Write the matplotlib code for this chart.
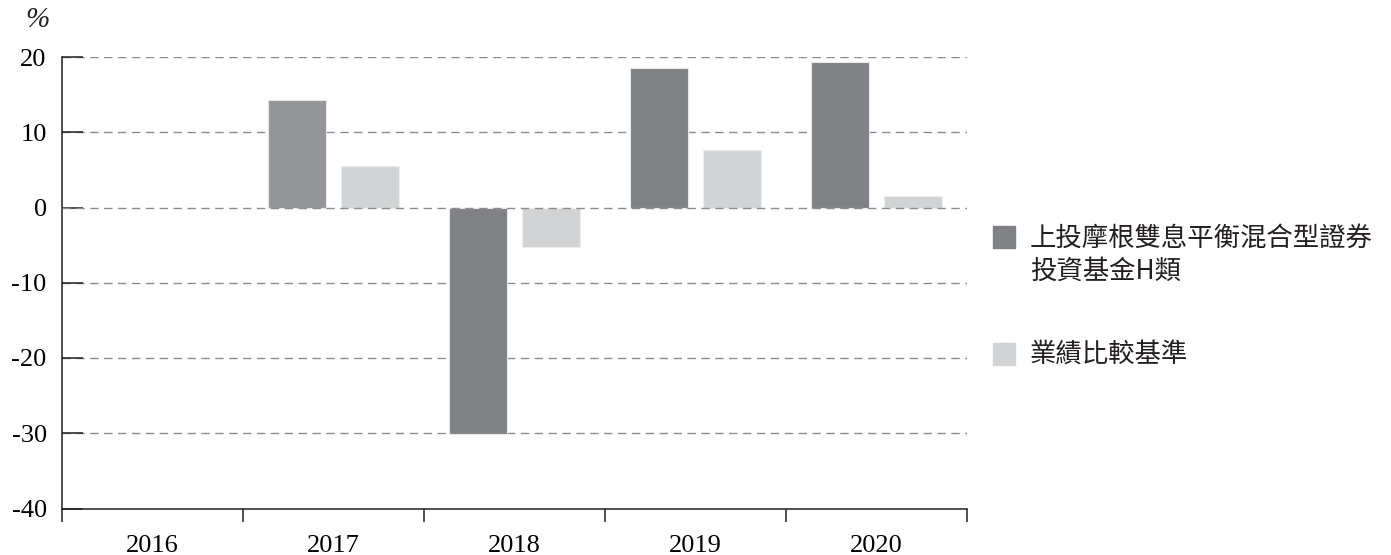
import matplotlib
matplotlib.use("Agg")
import matplotlib.pyplot as plt
from matplotlib.patches import Rectangle
import numpy as np

plt.rcParams['font.family'] = ['Liberation Serif', 'DejaVu Serif']

years = ["2016", "2017", "2018", "2019", "2020"]
fund = [np.nan, 14.3, -30.1, 18.6, 19.3]
bench = [np.nan, 5.5, -5.3, 7.7, 1.5]
fund_label = "上投摩根雙息平衡混合型證券\n投資基金H類"
bench_label = "業績比較基準"
yticks = [-40, -30, -20, -10, 0, 10, 20]

c_fund = "#808285"
c_fund17 = "#939598"
c_bench = "#d1d3d4"
c_axis = "#231f20"

fig = plt.figure(figsize=(13.91, 5.55), dpi=100)
ax = fig.add_axes([62 / 1391, 1 - 508.5 / 555, (967 - 62) / 1391, (508.5 - 57) / 555])

x = np.arange(len(years))
fund_colors = [c_fund17 if y == "2017" else c_fund for y in years]
ax.bar(x - 0.2, fund, width=0.32, color=fund_colors, edgecolor="#e6e7e8", linewidth=0.8, zorder=2)
ax.bar(x + 0.2, bench, width=0.32, color=c_bench, edgecolor="#eeeeee", linewidth=0.8, zorder=2)

ax.set_xlim(-0.5, len(years) - 0.5)
ax.set_ylim(-40, 20)
ax.set_yticks(yticks)
ax.set_yticklabels([str(t) for t in yticks], fontsize=19)
for t in yticks[1:]:
    ax.axhline(t, color="#8c8c8c", linewidth=1.0, linestyle=(0, (6, 4)), zorder=1 if t != 0 else 3)

ax.set_xticks(x)
ax.set_xticklabels(years, fontsize=19)
ax.set_xticks(np.arange(-0.5, len(years)), minor=True)
ax.tick_params(axis="x", which="major", length=0, pad=19)
ax.tick_params(axis="x", which="minor", length=9, width=1.1, direction="out", color=c_axis)
ax.tick_params(axis="y", which="major", length=15, width=1.1, direction="in", pad=11, color=c_axis)

for s in ["top", "right"]:
    ax.spines[s].set_visible(False)
for s in ["left", "bottom"]:
    ax.spines[s].set_linewidth(1.1)
    ax.spines[s].set_color(c_axis)

fig.text(37 / 1391, 1 - 20 / 555, "%", fontsize=21, style="italic", ha="center", va="center", color=c_axis)

# legend
cjk = ['Noto Sans CJK TC', 'DejaVu Sans']
fig.add_artist(Rectangle((993 / 1391, 1 - 248 / 555), 22 / 1391, 22 / 555,
                         transform=fig.transFigure, color=c_fund))
fig.add_artist(Rectangle((993 / 1391, 1 - 365 / 555), 22 / 1391, 22 / 555,
                         transform=fig.transFigure, color=c_bench))
lines = fund_label.split("\n")
fig.text(1030 / 1391, 1 - 238 / 555, lines[0], family=cjk, fontsize=19, va="center", color=c_axis)
fig.text(1030 / 1391, 1 - 271 / 555, lines[1], family=cjk, fontsize=19, va="center", color=c_axis)
fig.text(1030 / 1391, 1 - 354 / 555, bench_label, family=cjk, fontsize=19, va="center", color=c_axis)

fig.savefig("out.png", dpi=100)
